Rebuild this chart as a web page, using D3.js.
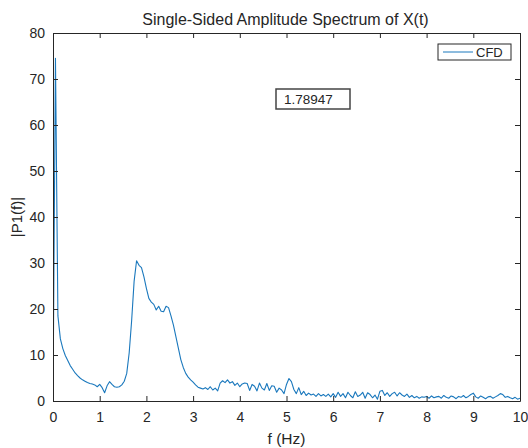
<!DOCTYPE html>
<html>
<head>
<meta charset="utf-8">
<script src="https://d3js.org/d3.v7.min.js"></script>
<style>
  body { margin: 0; background: #fff; }
  text { font-family: "Liberation Sans", Arial, sans-serif; fill: #262626; }
</style>
</head>
<body>
<svg id="vis"></svg>

<script>
    // frequency resolution of the FFT (1/19 Hz), spectrum runs 0..10 Hz
    var freqStep = 1 / 19;

    // |P1(f)|, one value per frequency bin
    var amplitude = [
        0, 74.5, 18.5, 13.5, 11.4, 9.9, 8.8, 7.7, 6.9, 6.1,
        5.5, 5.0, 4.6, 4.3, 4.0, 3.8, 3.7, 3.5, 3.1, 3.6,
        2.9, 1.8, 3.3, 4.2, 3.6, 3.1, 3.0, 3.1, 3.5, 4.3,
        6.0, 10.5, 17.5, 26.0, 30.5, 29.5, 29.0, 27.0, 24.5, 22.3,
        21.5, 21.0, 19.8, 20.6, 19.5, 19.4, 20.6, 20.3, 18.5, 16.5,
        14.0, 11.5, 9.0, 7.3, 6.0, 5.2, 4.6, 4.1, 3.5, 3.0,
        2.8, 2.6, 2.9, 2.5, 3.1, 2.4, 2.8, 2.2, 3.9, 4.4,
        4.0, 4.6, 3.9, 4.2, 3.4, 3.9, 3.1, 3.7, 3.9, 3.8,
        2.3, 3.6, 3.2, 2.2, 3.9, 2.8, 2.4, 3.8, 2.3, 3.3,
        3.2, 1.9, 2.8, 2.4, 1.6, 3.6, 4.9, 4.2, 2.5, 1.6,
        2.9, 1.4, 2.1, 1.2, 1.7, 1.3, 1.5, 1.0, 1.6, 1.1,
        1.4, 1.0, 1.5, 0.9, 1.6, 0.8, 1.9, 1.0, 1.6, 0.7,
        1.9, 1.2, 0.7, 2.0, 1.0, 1.3, 1.9, 0.6, 1.8, 1.4,
        0.7, 1.3, 0.4, 2.1, 2.3, 1.2, 1.8, 1.0, 1.6, 1.9,
        1.1, 1.8, 1.3, 1.0, 1.5, 0.8, 1.2, 0.7, 1.0, 0.6,
        0.9, 0.8, 1.0, 0.6, 1.1, 0.7, 0.9, 1.0, 0.6, 1.2,
        0.8, 0.6, 1.1, 0.9, 0.5, 1.0, 0.8, 1.2, 0.7, 1.0,
        1.4, 1.7, 0.9, 0.6, 1.1, 0.8, 0.5, 0.9, 1.0, 0.6,
        0.9, 1.2, 1.6, 1.4, 0.8, 1.0, 0.7, 0.5, 0.8, 0.4,
        0.6
    ];

    var xTicks = [0, 1, 2, 3, 4, 5, 6, 7, 8, 9, 10];
    var yTicks = [0, 10, 20, 30, 40, 50, 60, 70, 80];
    var seriesName = "CFD";
    var peakLabel = "1.78947";

    //Set the graph dimensions
    var margin = {top: 33, right: 8, bottom: 47, left: 53},
        width = 528 - margin.left - margin.right,
        height = 448 - margin.top - margin.bottom;

    var axisColor = "#262626";
    var lineColor = "#1a78bd";

    var svg = d3.select('#vis')
        .attr("width", 528)
        .attr("height", 448)
        .append("g")
            .attr("transform", "translate(" + margin.left + "," + margin.top + ")");

    var data = amplitude.map(function(v, i) { return {f: i * freqStep, v: v}; });

    // scales
    var xScale = d3.scaleLinear().domain([0, 10]).range([0, width]);
    var yScale = d3.scaleLinear().domain([0, 80]).range([height, 0]);

    // clip for the curve
    svg.append("clipPath").attr("id", "clip")
        .append("rect").attr("width", width).attr("height", height);

    // the spectrum
    svg.append("path")
        .datum(data)
        .attr("clip-path", "url(#clip)")
        .attr("fill", "none")
        .attr("stroke", lineColor)
        .attr("stroke-width", 1.1)
        .attr("stroke-linejoin", "round")
        .attr("d", d3.line()
            .x(function(d) { return xScale(d.f); })
            .y(function(d) { return yScale(d.v); }));

    // bottom axis, ticks inside
    var xAxis = svg.append("g")
        .attr("transform", "translate(0," + height + ")")
        .call(d3.axisBottom(xScale).tickValues(xTicks).tickSizeInner(-5).tickSizeOuter(0).tickPadding(11));
    // top axis
    var xTop = svg.append("g")
        .call(d3.axisTop(xScale).tickValues(xTicks).tickSizeInner(-5).tickSizeOuter(0).tickFormat(""));
    // left axis
    var yAxis = svg.append("g")
        .call(d3.axisLeft(yScale).tickValues(yTicks).tickSizeInner(-5).tickSizeOuter(0).tickPadding(8));
    // right axis
    var yRight = svg.append("g")
        .attr("transform", "translate(" + width + ",0)")
        .call(d3.axisRight(yScale).tickValues(yTicks).tickSizeInner(-5).tickSizeOuter(0).tickFormat(""));

    [xAxis, xTop, yAxis, yRight].forEach(function(g) {
        g.select(".domain").attr("stroke", axisColor).attr("stroke-width", 1);
        g.selectAll(".tick line").attr("stroke", axisColor);
        g.selectAll(".tick text")
            .attr("fill", "#333")
            .style("font-size", "14px")
            .style("font-family", "'Liberation Sans', Arial, sans-serif");
    });

    //The graph title
    svg.append("text")
        .attr("x", width / 2 - 1)
        .attr("y", -8)
        .attr("text-anchor", "middle")
        .style("font-size", "16px")
        .text("Single-Sided Amplitude Spectrum of X(t)");

    // axis labels
    svg.append("text")
        .attr("x", width / 2)
        .attr("y", height + 43)
        .attr("text-anchor", "middle")
        .style("font-size", "15.5px")
        .text("f (Hz)");

    svg.append("text")
        .attr("transform", "rotate(-90)")
        .attr("x", -height / 2)
        .attr("y", -31)
        .attr("text-anchor", "middle")
        .style("font-size", "15px")
        .text("|P1(f)|");

    // legend
    var legend = svg.append("g").attr("transform", "translate(" + (width - 82) + ",11)");
    legend.append("rect")
        .attr("width", 73).attr("height", 16)
        .attr("fill", "#fff").attr("stroke", axisColor).attr("stroke-width", 1);
    legend.append("line")
        .attr("x1", 5).attr("x2", 35).attr("y1", 8).attr("y2", 8)
        .attr("stroke", lineColor).attr("stroke-width", 1);
    legend.append("text")
        .attr("x", 38).attr("y", 12.5)
        .style("font-size", "13px")
        .text(seriesName);

    // annotation box with the peak frequency
    var note = svg.append("g").attr("transform", "translate(" + 223 + ",56)");
    note.append("rect")
        .attr("width", 74).attr("height", 20)
        .attr("fill", "#fff").attr("stroke", "#444").attr("stroke-width", 1.5);
    note.append("text")
        .attr("x", 8).attr("y", 15)
        .style("font-size", "13.5px")
        .text(peakLabel);
</script>
</body>
</html>
